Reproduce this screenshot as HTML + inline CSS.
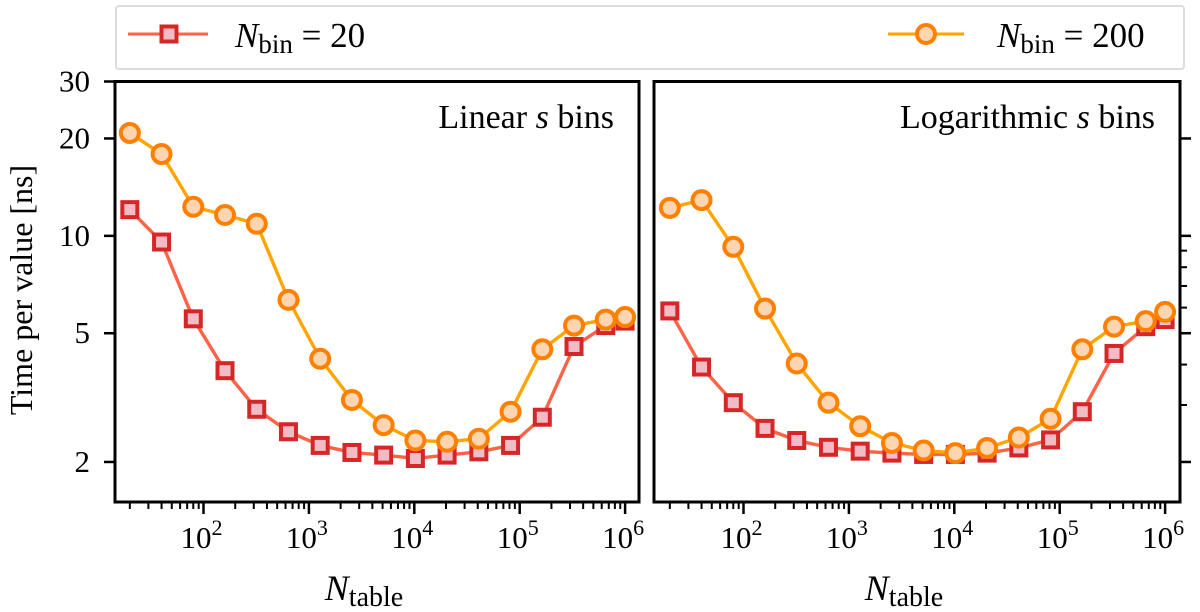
<!DOCTYPE html>
<html><head><meta charset="utf-8"><style>
body{margin:0;background:#fff;}
svg{display:block;}
text{font-family:"DejaVu Serif","Liberation Serif",serif;}
</style></head><body>
<svg id="chart" width="1200" height="612" viewBox="0 0 1200 612"></svg>
<script>
const nTable = [20,40,80,160,320,640,1280,2560,5120,10240,20480,40960,81920,163840,327680,655360,1000000];
const linRed = [12.05,9.57,5.54,3.83,2.91,2.48,2.25,2.14,2.10,2.05,2.10,2.15,2.25,2.75,4.55,5.28,5.45];
const linOrange = [20.8,17.9,12.3,11.6,10.9,6.34,4.17,3.11,2.60,2.33,2.31,2.36,2.86,4.46,5.28,5.51,5.61];
const logRed = [5.86,3.93,3.05,2.54,2.33,2.22,2.16,2.13,2.11,2.11,2.13,2.21,2.34,2.86,4.33,5.24,5.51];
const logOrange = [12.2,12.9,9.25,5.96,4.03,3.05,2.58,2.29,2.17,2.13,2.21,2.38,2.72,4.46,5.24,5.45,5.82];
const yTicks = [2,5,10,20,30];
const yTickLabels = ["2","5","10","20","30"];
const yMinor = [3,4,6,7,8,9];
const xDecades = [2,3,4,5,6];

const NS='http://www.w3.org/2000/svg';
const svg=document.getElementById('chart');
function mk(tag,attrs,parent){const e=document.createElementNS(NS,tag);for(const k in attrs)e.setAttribute(k,attrs[k]);if(tag==='text')e.style.fontFamily="'Liberation Serif', 'DejaVu Serif', serif";(parent||svg).appendChild(e);return e;}

const yTop=81.5,yBot=502,yMaxV=30,pxDec=323.5;
function ys(v){return yTop+(Math.log10(yMaxV)-Math.log10(v))*pxDec;}
const panels=[
 {x0:115,x1:639,x2:203.5,title:'Linear ',red:linRed,orange:linOrange,ticksLeft:true,name:'linear-panel'},
 {x0:654,x1:1180,x2:743.5,title:'Logarithmic ',red:logRed,orange:logOrange,ticksLeft:false,name:'log-panel'}
];
const xDec=105.4;

const lg=mk('g',{});


mk('rect',{x:116,y:6,width:1068,height:63,rx:3,fill:'#fff',stroke:'#dcdcdc','stroke-width':2},lg);
function legendEntry(cx,x1,x2,color,isSq,label,tx,name){
 const g=mk('g',{},lg);
 
 
 mk('line',{x1:x1,x2:x2,y1:34,y2:34,stroke:color,'stroke-width':3},g);
 if(isSq) mk('rect',{x:cx-7.5,y:26.5,width:15,height:15,fill:'#f2bcc6',stroke:'#d62728','stroke-width':4},g);
 else mk('circle',{cx:cx,cy:34,r:9,fill:'#fdd5b0',stroke:'#ff7f00','stroke-width':4},g);
 const t=mk('text',{x:tx,y:47,'font-size':35},g);
 t.innerHTML='<tspan font-style="italic">N</tspan><tspan font-size="27" dy="6">bin</tspan><tspan dy="-6"> = '+label+'</tspan>';
}
legendEntry(169,128,208,'#ff6347',true,'20',235,'legend-nbin-20');
legendEntry(926,888,964,'#ffa500',false,'200',997,'legend-nbin-200');

panels.forEach((p,pi)=>{
 const g=mk('g',{});
 
 
 const xs=v=>p.x2+(Math.log10(v)-2)*xDec;
 for(let d=1;d<=6;d++){
  for(let m=1;m<10;m++){
   const v=m*Math.pow(10,d);const x=xs(v);
   if(x<p.x0+2||x>p.x1-2)continue;
   const major=m===1;
   mk('line',{x1:x,x2:x,y1:yBot,y2:yBot+(major?12:7),stroke:'#000','stroke-width':major?2.5:2},g);
  }
 }
 xDecades.forEach(d=>{
  const t=mk('text',{x:xs(Math.pow(10,d))-2,y:548,'font-size':31,'text-anchor':'middle'},g);
  
  
  t.innerHTML='10<tspan font-size="22" dy="-13">'+d+'</tspan>';
 });
 if(p.ticksLeft){
  yTicks.forEach((v,i)=>{
   mk('line',{x1:p.x0-11,x2:p.x0,y1:ys(v),y2:ys(v),stroke:'#000','stroke-width':2.5},g);
   const t=mk('text',{x:p.x0-25,y:ys(v)+10,'font-size':31,'text-anchor':'end'},g);
   
   
   t.textContent=yTickLabels[i];
  });
 } else {
  yTicks.forEach(v=>{ if(v<30) mk('line',{x1:p.x1,x2:p.x1+11,y1:ys(v),y2:ys(v),stroke:'#000','stroke-width':2.5},g);});
  yMinor.forEach(v=>mk('line',{x1:p.x1,x2:p.x1+7,y1:ys(v),y2:ys(v),stroke:'#000','stroke-width':2},g));
 }
 function series(vals,color,stroke,fill,isSq,name){
  const sg=mk('g',{},g);
  
  
  mk('polyline',{points:vals.map((v,i)=>xs(nTable[i])+','+ys(v)).join(' '),fill:'none',stroke:color,'stroke-width':3.4,'stroke-linejoin':'round'},sg);
  vals.forEach((v,i)=>{
   const x=xs(nTable[i]),y=ys(v);let m;
   if(isSq) m=mk('rect',{x:x-7.5,y:y-7.5,width:15,height:15,fill:fill,stroke:stroke,'stroke-width':4},sg);
   else m=mk('circle',{cx:x,cy:y,r:9,fill:fill,stroke:stroke,'stroke-width':4},sg);
   
   
  });
 }
 series(p.red,'#ff6347','#d62728','#f2bcc6',true,'series-nbin-20');
 series(p.orange,'#ffa500','#ff7f00','#fdd5b0',false,'series-nbin-200');
 mk('rect',{x:p.x0,y:yTop,width:p.x1-p.x0,height:yBot-yTop,fill:'none',stroke:'#000','stroke-width':3},g);
 const t=mk('text',{x:p.x1-25,y:128,'font-size':34,'text-anchor':'end'},g);
 
 
 t.innerHTML=p.title+'<tspan font-style="italic">s</tspan> bins';
 const xl=mk('text',{x:(p.x0+p.x1)/2-13,y:600,'font-size':36,'text-anchor':'middle'},g);
 
 
 xl.innerHTML='<tspan font-style="italic">N</tspan><tspan font-size="28" dy="6">table</tspan>';
});
const yl=mk('text',{x:0,y:0,'font-size':32,'text-anchor':'middle',transform:'translate(32,290) rotate(-90)'});


yl.textContent='Time per value [ns]';
</script>
</body></html>
